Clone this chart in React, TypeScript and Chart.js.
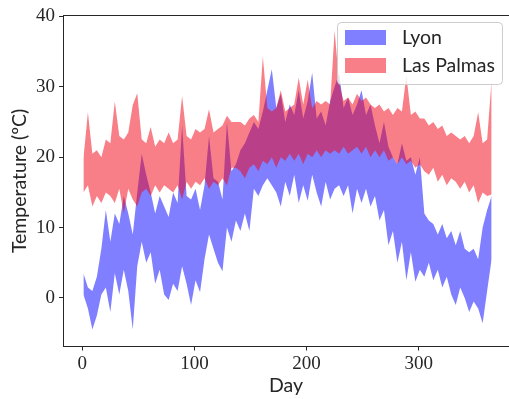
import React, { useEffect, useRef } from "react";
import { Chart, registerables } from "chart.js";

Chart.register(...registerables);

// Day of year (sampled every 4 days)
const days = [
  1, 5, 9, 13, 17, 21, 25, 29, 33, 37, 41, 45, 49, 53, 57, 61, 65, 69, 73, 77,
  81, 85, 89, 93, 97, 101, 105, 109, 113, 117, 121, 125, 129, 133, 137, 141, 145, 149, 153, 157,
  161, 165, 169, 173, 177, 181, 185, 189, 193, 197, 201, 205, 209, 213, 217, 221, 225, 229, 233, 237,
  241, 245, 249, 253, 257, 261, 265, 269, 273, 277, 281, 285, 289, 293, 297, 301, 305, 309, 313, 317,
  321, 325, 329, 333, 337, 341, 345, 349, 353, 357, 361, 365,
];

const lyonMin = [
  0.5, -1.5, -4.5, -2.5, 0.5, 1.5, -2.0, 3.5, 0.5, 4.0, 1.0, -4.5, 4.5, 8.0, 5.0, 6.5, 2.0, 4.0, 0.5, -0.3,
  2.0, 1.0, 4.5, 2.0, -1.0, 2.5, 0.8, 5.5, 9.0, 7.0, 5.0, 3.8, 10.0, 8.0, 11.0, 9.5, 12.0, 9.5, 15.5, 14.5,
  16.0, 17.0, 16.0, 15.0, 13.0, 16.5, 14.5, 17.5, 13.5, 16.0, 13.8, 17.5, 15.0, 13.0, 16.5, 14.0, 15.5, 16.0, 14.5, 16.0,
  12.0, 15.5, 13.5, 15.5, 13.0, 14.5, 11.0, 12.5, 7.5, 9.5, 5.0, 8.0, 2.5, 6.5, 2.3, 4.0, 3.0, 5.0, 2.5, 4.0,
  1.5, 3.0, 0.5, -1.0, 1.5, 0.0, -2.0, -0.5, -1.5, -3.6, 1.0, 5.5,
];

const lyonMax = [
  3.5, 1.5, 1.0, 3.0, 7.0, 12.5, 8.0, 12.0, 10.5, 14.5, 12.0, 9.0, 15.0, 20.5, 17.5, 15.0, 12.0, 14.5, 13.0, 11.5,
  15.0, 13.5, 24.5, 14.5, 14.0, 15.5, 12.5, 16.0, 23.0, 17.0, 16.5, 14.0, 25.0, 18.0, 19.0, 21.0, 22.0, 23.5, 25.0, 24.0,
  26.5, 29.5, 32.5, 27.0, 29.0, 25.0, 27.5, 26.0, 29.5, 25.5, 28.0, 32.0, 25.5, 26.5, 24.5, 28.0, 30.0, 32.0, 27.0, 28.5,
  26.0, 27.5, 29.5, 26.0, 27.5, 24.5, 22.0, 25.0, 21.5, 20.0, 19.0, 22.0, 19.5, 20.0, 17.5, 20.0, 12.0, 11.0, 10.5, 9.0,
  10.5, 8.5, 9.5, 7.5, 9.5, 7.0, 6.5, 7.0, 5.5, 10.0, 12.5, 14.5,
];

const palmasMin = [
  15.0, 16.0, 13.0, 14.5, 13.5, 15.0, 14.5, 13.5, 15.5, 12.0, 15.5, 14.0, 13.0, 15.0, 15.5, 14.5, 16.0, 15.0, 16.0, 15.5,
  15.0, 16.0, 14.0, 16.5, 15.5, 16.5, 16.0, 17.0, 15.5, 16.5, 16.0, 17.0, 16.0, 18.5, 18.5, 18.0, 17.0, 18.5, 19.0, 18.0,
  19.5, 19.0, 20.0, 18.5, 20.0, 19.5, 20.5, 19.5, 20.5, 19.0, 20.5, 20.0, 21.0, 20.0, 21.0, 20.5, 21.0, 20.5, 21.5, 20.5,
  21.0, 21.5, 20.5, 21.5, 20.0, 21.0, 20.0, 21.0, 19.5, 20.0, 19.0, 20.0, 19.0, 19.5, 18.5, 19.0, 18.0, 17.5, 18.5, 16.5,
  17.5, 16.0, 17.0, 16.5, 15.5, 16.5, 15.0, 16.0, 13.5, 15.0, 14.5, 14.7,
];

const palmasMax = [
  19.8, 26.4, 20.5, 21.0, 20.0, 22.5, 22.0, 27.9, 23.0, 22.5, 23.5, 27.4, 29.1, 22.5, 22.0, 24.3, 21.5, 22.5, 22.0, 23.5,
  22.0, 22.5, 28.7, 23.0, 22.5, 24.0, 23.5, 24.0, 26.8, 23.5, 24.0, 24.5, 25.9, 25.0, 25.0, 25.0, 24.5, 25.5, 26.0, 25.0,
  34.3, 27.0, 26.5, 27.0, 29.5, 26.5, 27.0, 27.5, 31.3, 27.5, 31.0, 27.0, 28.0, 27.5, 28.0, 27.5, 38.0, 30.5, 28.0, 28.5,
  27.5, 29.0, 28.0, 28.5, 27.5, 27.0, 27.5, 26.5, 27.0, 26.0, 27.0, 26.5, 31.6, 26.0, 26.5, 25.5, 25.5, 24.5, 25.0, 24.0,
  24.5, 23.0, 23.5, 23.0, 22.5, 23.0, 22.0, 23.0, 26.4, 22.0, 22.5, 31.0,
];

const xTicks = [0, 100, 200, 300];
const yTicks = [0, 10, 20, 30, 40];
const cityNames = ["Lyon", "Las Palmas"];

const BLUE = "rgba(0,0,255,0.5)";
const RED = "rgba(242,0,18,0.5)";
const INK = "#262626";

const pts = (ys: number[]) => days.map((d, i) => ({ x: d, y: ys[i] }));

export default function App() {
  const ref = useRef<HTMLCanvasElement>(null);

  useEffect(() => {
    if (!ref.current) return;

    const framePlugin = {
      id: "frameTop",
      afterDraw(chart: any) {
        const { ctx, chartArea } = chart;
        ctx.save();
        ctx.strokeStyle = INK;
        ctx.lineWidth = 1;
        ctx.beginPath();
        ctx.moveTo(chartArea.left, Math.round(chartArea.top) + 0.5);
        ctx.lineTo(chartArea.right, Math.round(chartArea.top) + 0.5);
        ctx.stroke();
        ctx.restore();
      },
    };

    const legendPlugin = {
      id: "boxLegend",
      afterDraw(chart: any) {
        const ctx = chart.ctx;
        ctx.save();
        const x0 = 337.5, y0 = 22.5, w = 165, h = 62, r = 4;
        ctx.beginPath();
        ctx.moveTo(x0 + r, y0);
        ctx.lineTo(x0 + w - r, y0);
        ctx.quadraticCurveTo(x0 + w, y0, x0 + w, y0 + r);
        ctx.lineTo(x0 + w, y0 + h - r);
        ctx.quadraticCurveTo(x0 + w, y0 + h, x0 + w - r, y0 + h);
        ctx.lineTo(x0 + r, y0 + h);
        ctx.quadraticCurveTo(x0, y0 + h, x0, y0 + h - r);
        ctx.lineTo(x0, y0 + r);
        ctx.quadraticCurveTo(x0, y0, x0 + r, y0);
        ctx.closePath();
        ctx.fillStyle = "rgba(255,255,255,0.8)";
        ctx.fill();
        ctx.strokeStyle = "#cccccc";
        ctx.lineWidth = 1;
        ctx.stroke();
        const colors = [BLUE, RED];
        const rows = [30, 58];
        ctx.font = "19.5px Lato";
        ctx.textBaseline = "middle";
        ctx.textAlign = "left";
        cityNames.forEach((name, i) => {
          ctx.fillStyle = colors[i];
          ctx.fillRect(345, rows[i], 41, 15);
          ctx.fillStyle = INK;
          ctx.fillText(name, 402, rows[i] + 8);
        });
        ctx.restore();
      },
    };

    const common = { pointRadius: 0, borderWidth: 0, borderColor: "rgba(0,0,0,0)", tension: 0 };

    const chart = new Chart(ref.current, {
      type: "line",
      data: {
        datasets: [
          { ...common, label: "Las Palmas min", data: pts(palmasMin), fill: false, backgroundColor: RED },
          { ...common, label: "Las Palmas", data: pts(palmasMax), fill: "-1", backgroundColor: RED },
          { ...common, label: "Lyon min", data: pts(lyonMin), fill: false, backgroundColor: BLUE },
          { ...common, label: "Lyon", data: pts(lyonMax), fill: "-1", backgroundColor: BLUE },
        ],
      },
      options: {
        animation: false,
        responsive: false,
        events: [],
        layout: { padding: { top: 12.5, right: 0, left: 0, bottom: 0 } },
        plugins: { legend: { display: false }, tooltip: { enabled: false } },
        scales: {
          x: {
            type: "linear",
            min: -17.2,
            max: 380.5,
            afterBuildTicks: (s: any) => {
              s.ticks = xTicks.map((v) => ({ value: v }));
            },
            afterFit: (s: any) => {
              s.height = 52.5;
            },
            grid: { drawOnChartArea: false, tickLength: 4, color: INK, lineWidth: 1 },
            border: { color: INK, width: 1 },
            ticks: { font: { family: "Liberation Serif", size: 19 }, color: INK, padding: 2, maxRotation: 0 },
            title: {
              display: true,
              text: "Day",
              font: { family: "Lato", size: 19.5 },
              color: INK,
              padding: { top: 0, bottom: 2 },
            },
          },
          y: {
            type: "linear",
            min: -6.9,
            max: 40.15,
            afterBuildTicks: (s: any) => {
              s.ticks = yTicks.map((v) => ({ value: v }));
            },
            afterFit: (s: any) => {
              s.width = 63;
            },
            grid: { drawOnChartArea: false, tickLength: 4, color: INK, lineWidth: 1 },
            border: { color: INK, width: 1 },
            ticks: { font: { family: "Liberation Serif", size: 19 }, color: INK, padding: 4 },
            title: {
              display: true,
              text: "Temperature (ºC)",
              font: { family: "Lato", size: 19.5 },
              color: INK,
              padding: { top: 8.5, bottom: 0 },
            },
          },
        },
      },
      plugins: [framePlugin, legendPlugin],
    } as any);

    return () => chart.destroy();
  }, []);

  return (
    <div style={{ position: "fixed", left: 0, top: 0, width: 509, height: 399, background: "#fff" }}>
      <canvas ref={ref} width={509} height={399} style={{ display: "block", width: 509, height: 399 }} />
    </div>
  );
}
